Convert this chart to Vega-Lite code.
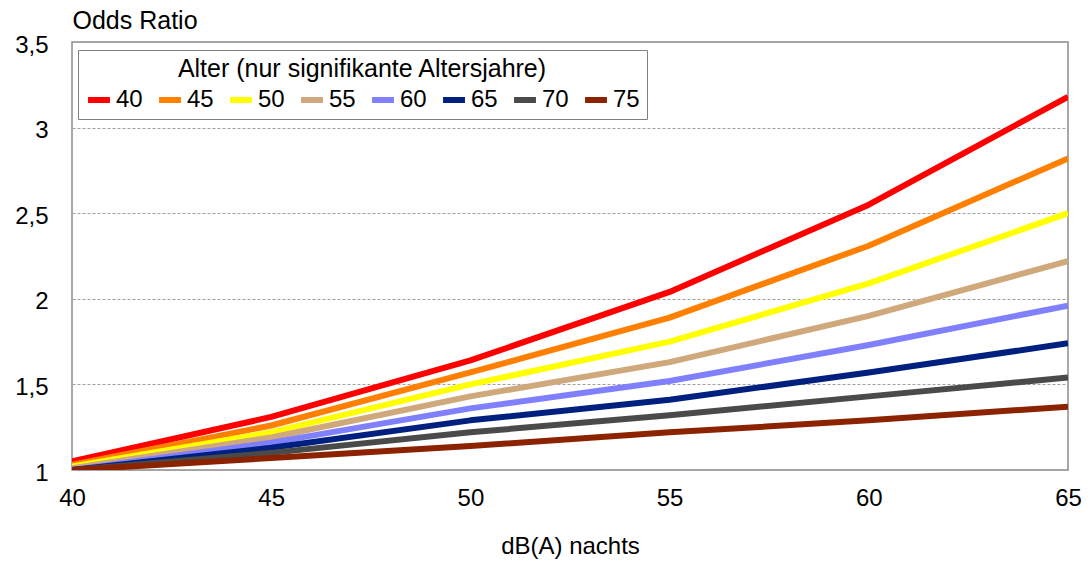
{
  "$schema": "https://vega.github.io/schema/vega-lite/v6.json",
  "autosize": "none",
  "width": 996,
  "height": 428,
  "padding": {"left": 72, "top": 42, "right": 22, "bottom": 100},
  "background": "white",
  "config": {
    "font": "Liberation Sans",
    "view": {"stroke": "#8c8c8c", "strokeWidth": 1.5}
  },
  "data": {
    "values": [
      {"dB": 40, "Alter": 40, "OR": 1.05}, {"dB": 45, "Alter": 40, "OR": 1.31}, {"dB": 50, "Alter": 40, "OR": 1.64}, {"dB": 55, "Alter": 40, "OR": 2.04}, {"dB": 60, "Alter": 40, "OR": 2.55}, {"dB": 65, "Alter": 40, "OR": 3.18},
      {"dB": 40, "Alter": 45, "OR": 1.03}, {"dB": 45, "Alter": 45, "OR": 1.26}, {"dB": 50, "Alter": 45, "OR": 1.57}, {"dB": 55, "Alter": 45, "OR": 1.89}, {"dB": 60, "Alter": 45, "OR": 2.31}, {"dB": 65, "Alter": 45, "OR": 2.82},
      {"dB": 40, "Alter": 50, "OR": 1.02}, {"dB": 45, "Alter": 50, "OR": 1.22}, {"dB": 50, "Alter": 50, "OR": 1.50}, {"dB": 55, "Alter": 50, "OR": 1.75}, {"dB": 60, "Alter": 50, "OR": 2.09}, {"dB": 65, "Alter": 50, "OR": 2.50},
      {"dB": 40, "Alter": 55, "OR": 1.01}, {"dB": 45, "Alter": 55, "OR": 1.19}, {"dB": 50, "Alter": 55, "OR": 1.43}, {"dB": 55, "Alter": 55, "OR": 1.63}, {"dB": 60, "Alter": 55, "OR": 1.90}, {"dB": 65, "Alter": 55, "OR": 2.22},
      {"dB": 40, "Alter": 60, "OR": 1.00}, {"dB": 45, "Alter": 60, "OR": 1.16}, {"dB": 50, "Alter": 60, "OR": 1.36}, {"dB": 55, "Alter": 60, "OR": 1.52}, {"dB": 60, "Alter": 60, "OR": 1.73}, {"dB": 65, "Alter": 60, "OR": 1.96},
      {"dB": 40, "Alter": 65, "OR": 1.00}, {"dB": 45, "Alter": 65, "OR": 1.13}, {"dB": 50, "Alter": 65, "OR": 1.29}, {"dB": 55, "Alter": 65, "OR": 1.41}, {"dB": 60, "Alter": 65, "OR": 1.57}, {"dB": 65, "Alter": 65, "OR": 1.74},
      {"dB": 40, "Alter": 70, "OR": 1.00}, {"dB": 45, "Alter": 70, "OR": 1.10}, {"dB": 50, "Alter": 70, "OR": 1.22}, {"dB": 55, "Alter": 70, "OR": 1.32}, {"dB": 60, "Alter": 70, "OR": 1.43}, {"dB": 65, "Alter": 70, "OR": 1.54},
      {"dB": 40, "Alter": 75, "OR": 1.00}, {"dB": 45, "Alter": 75, "OR": 1.07}, {"dB": 50, "Alter": 75, "OR": 1.14}, {"dB": 55, "Alter": 75, "OR": 1.22}, {"dB": 60, "Alter": 75, "OR": 1.29}, {"dB": 65, "Alter": 75, "OR": 1.37}
    ]
  },
  "mark": {"type": "line", "strokeWidth": 6, "clip": true, "strokeJoin": "round"},
  "encoding": {
    "x": {
      "field": "dB", "type": "quantitative",
      "scale": {"domain": [40, 65], "nice": false, "zero": false},
      "axis": {
        "values": [40, 45, 50, 55, 60, 65],
        "grid": false, "domain": false, "ticks": false, "labelFlush": false,
        "labelFontSize": 24, "labelColor": "#000", "labelPadding": 16,
        "title": "dB(A) nachts", "titleFontSize": 24, "titleFontWeight": "normal",
        "titleColor": "#000", "titlePadding": 24
      }
    },
    "y": {
      "field": "OR", "type": "quantitative",
      "scale": {"domain": [1, 3.5], "nice": false, "zero": false},
      "axis": {
        "values": [1, 1.5, 2, 2.5, 3, 3.5],
        "labelExpr": "replace(format(datum.value, ''), '.', ',')",
        "grid": true, "gridColor": "#a0a0a0", "gridDash": [3, 2], "gridWidth": 1,
        "domain": false, "ticks": false, "labelFlush": false,
        "labelFontSize": 24, "labelColor": "#000", "labelPadding": 24, "labelOffset": 3,
        "title": "Odds Ratio", "titleAngle": 0, "titleAlign": "left", "titleBaseline": "alphabetic",
        "titleX": 0, "titleY": -14, "titleFontSize": 25, "titleFontWeight": "normal", "titleColor": "#000"
      }
    },
    "color": {
      "field": "Alter", "type": "nominal",
      "scale": {
        "domain": [40, 45, 50, 55, 60, 65, 70, 75],
        "range": ["#ff0000", "#ff8000", "#ffff00", "#cfa97c", "#8080ff", "#00207f", "#4a4a4a", "#8b2300"]
      },
      "legend": {
        "title": "Alter (nur signifikante Altersjahre)",
        "orient": "none", "legendX": 6, "legendY": 8,
        "direction": "horizontal", "columns": 8,
        "symbolType": "stroke", "symbolSize": 480, "symbolStrokeWidth": 6,
        "labelFontSize": 24, "labelColor": "#000", "labelOffset": 3,
        "columnPadding": 4,
        "titleFontSize": 25, "titleFontWeight": "normal", "titleColor": "#000",
        "titleAnchor": "middle", "titlePadding": 4, "titleLimit": 800,
        "strokeColor": "#808080", "padding": 7, "fillColor": "white"
      }
    }
  }
}
